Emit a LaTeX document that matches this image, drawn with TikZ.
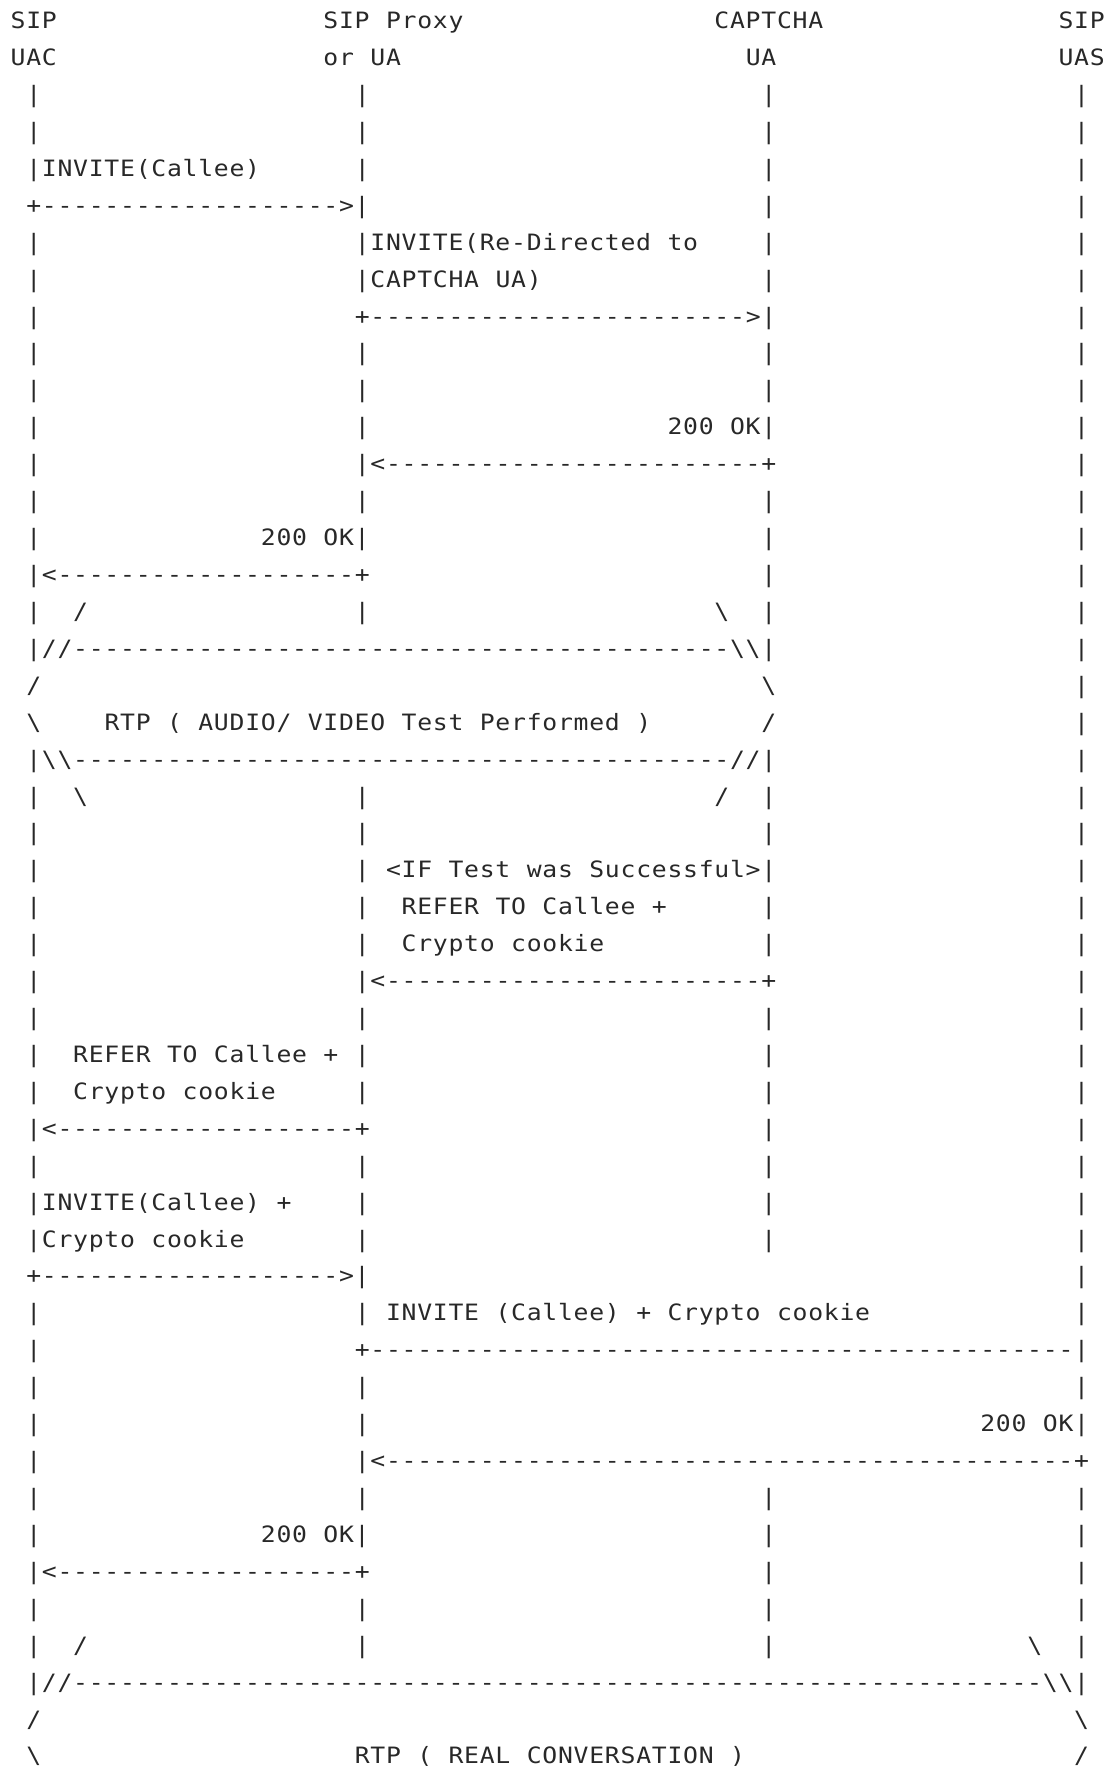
\documentclass[tikz,border=0pt]{standalone}
\usepackage{fontspec}
\newfontfamily\asc{DejaVu Sans Mono}[FakeStretch=1.1]
\definecolor{ink}{RGB}{40,40,40}
\makeatletter
\newcommand\gr[1]{\@tfor\gch:=#1\do{\makebox[15.64pt][c]{\gch}}}
\makeatother
\newcount\dcnt
\newcommand\dashrun[1]{\dcnt=0 \loop\ifnum\dcnt<#1 \makebox[15.64pt][c]{-}\advance\dcnt 1 \repeat}
\tikzset{txt/.style={anchor=base west, inner sep=0pt, outer sep=0pt, text=ink,
  font=\asc\fontsize{22.5}{27}\selectfont}}
\newcommand\tx[3]{\node[txt] (n#1c#2) at ({10.3+#2*15.64},{-(28.7+(#1-1)*36.92)}) {\gr{#3}};}
\newcommand\dr[3]{\node[txt] (d#1c#2) at ({10.3+#2*15.64},{-(28.7+(#1-1)*36.92)}) {\dashrun{#3}};}
\newcommand\pp[2]{\foreach \c in {#2}{\tx{#1}{\c}{|}}}
\newcommand\bs{\textbackslash}
\begin{document}
\begin{tikzpicture}[x=1pt,y=1pt]
\useasboundingbox (0,0) rectangle (1112,-1771);
% row 1-2 headers
\tx{1}{0}{SIP} \tx{1}{20}{SIP} \tx{1}{24}{Proxy} \tx{1}{45}{CAPTCHA} \tx{1}{67}{SIP}
\tx{2}{0}{UAC} \tx{2}{20}{or} \tx{2}{23}{UA} \tx{2}{47}{UA} \tx{2}{67}{UAS}
\pp{3}{1,22,48,68}
\pp{4}{1,22,48,68}
\tx{5}{1}{|INVITE(Callee)} \pp{5}{22,48,68}
\tx{6}{1}{+} \dr{6}{2}{19} \tx{6}{21}{>|} \pp{6}{48,68}
\pp{7}{1} \tx{7}{22}{|INVITE(Re-Directed} \tx{7}{42}{to} \pp{7}{48,68}
\pp{8}{1} \tx{8}{22}{|CAPTCHA} \tx{8}{31}{UA)} \pp{8}{48,68}
\pp{9}{1} \tx{9}{22}{+} \dr{9}{23}{24} \tx{9}{47}{>|} \pp{9}{68}
\pp{10}{1,22,48,68}
\pp{11}{1,22,48,68}
\pp{12}{1,22} \tx{12}{42}{200} \tx{12}{46}{OK|} \pp{12}{68}
\pp{13}{1} \tx{13}{22}{|<} \dr{13}{24}{24} \tx{13}{48}{+} \pp{13}{68}
\pp{14}{1,22,48,68}
\pp{15}{1} \tx{15}{16}{200} \tx{15}{20}{OK|} \pp{15}{48,68}
\tx{16}{1}{|<} \dr{16}{3}{19} \tx{16}{22}{+} \pp{16}{48,68}
\pp{17}{1} \tx{17}{4}{/} \pp{17}{22} \tx{17}{45}{\bs} \pp{17}{48,68}
\tx{18}{1}{|//} \dr{18}{4}{42} \tx{18}{46}{\bs\bs|} \pp{18}{68}
\tx{19}{1}{/} \tx{19}{48}{\bs} \pp{19}{68}
\tx{20}{1}{\bs} \tx{20}{6}{RTP} \tx{20}{10}{(} \tx{20}{12}{AUDIO/} \tx{20}{19}{VIDEO}
\tx{20}{25}{Test} \tx{20}{30}{Performed} \tx{20}{40}{)} \tx{20}{48}{/} \pp{20}{68}
\tx{21}{1}{|\bs\bs} \dr{21}{4}{42} \tx{21}{46}{//|} \pp{21}{68}
\pp{22}{1} \tx{22}{4}{\bs} \pp{22}{22} \tx{22}{45}{/} \pp{22}{48,68}
\pp{23}{1,22,48,68}
\pp{24}{1,22} \tx{24}{24}{<IF} \tx{24}{28}{Test} \tx{24}{33}{was} \tx{24}{37}{Successful>|} \pp{24}{68}
\pp{25}{1,22} \tx{25}{25}{REFER} \tx{25}{31}{TO} \tx{25}{34}{Callee} \tx{25}{41}{+} \pp{25}{48,68}
\pp{26}{1,22} \tx{26}{25}{Crypto} \tx{26}{32}{cookie} \pp{26}{48,68}
\pp{27}{1} \tx{27}{22}{|<} \dr{27}{24}{24} \tx{27}{48}{+} \pp{27}{68}
\pp{28}{1,22,48,68}
\pp{29}{1} \tx{29}{4}{REFER} \tx{29}{10}{TO} \tx{29}{13}{Callee} \tx{29}{20}{+} \pp{29}{22,48,68}
\pp{30}{1} \tx{30}{4}{Crypto} \tx{30}{11}{cookie} \pp{30}{22,48,68}
\tx{31}{1}{|<} \dr{31}{3}{19} \tx{31}{22}{+} \pp{31}{48,68}
\pp{32}{1,22,48,68}
\tx{33}{1}{|INVITE(Callee)} \tx{33}{17}{+} \pp{33}{22,48,68}
\tx{34}{1}{|Crypto} \tx{34}{9}{cookie} \pp{34}{22,48,68}
\tx{35}{1}{+} \dr{35}{2}{19} \tx{35}{21}{>|} \pp{35}{68}
\pp{36}{1,22} \tx{36}{24}{INVITE} \tx{36}{31}{(Callee)} \tx{36}{40}{+} \tx{36}{42}{Crypto} \tx{36}{49}{cookie} \pp{36}{68}
\pp{37}{1} \tx{37}{22}{+} \dr{37}{23}{45} \tx{37}{68}{|}
\pp{38}{1,22,68}
\pp{39}{1,22} \tx{39}{62}{200} \tx{39}{66}{OK|}
\pp{40}{1} \tx{40}{22}{|<} \dr{40}{24}{44} \tx{40}{68}{+}
\pp{41}{1,22,48,68}
\pp{42}{1} \tx{42}{16}{200} \tx{42}{20}{OK|} \pp{42}{48,68}
\tx{43}{1}{|<} \dr{43}{3}{19} \tx{43}{22}{+} \pp{43}{48,68}
\pp{44}{1,22,48,68}
\pp{45}{1} \tx{45}{4}{/} \pp{45}{22,48} \tx{45}{65}{\bs} \pp{45}{68}
\tx{46}{1}{|//} \dr{46}{4}{62} \tx{46}{66}{\bs\bs|}
\tx{47}{1}{/} \tx{47}{68}{\bs}
\tx{48}{1}{\bs} \tx{48}{22}{RTP} \tx{48}{26}{(} \tx{48}{28}{REAL} \tx{48}{33}{CONVERSATION} \tx{48}{46}{)} \tx{48}{68}{/}
\end{tikzpicture}
\end{document}
